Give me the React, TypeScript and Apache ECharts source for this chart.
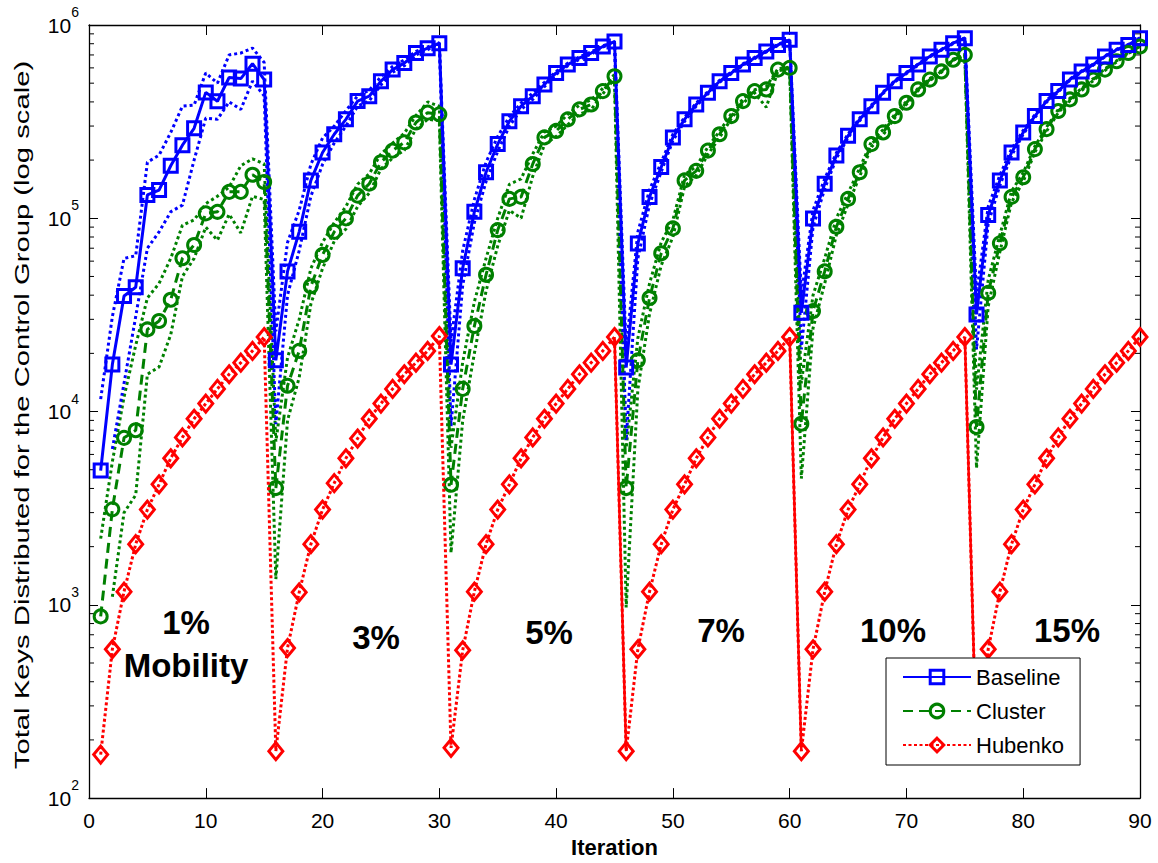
import React, { useEffect, useRef } from 'react';
import * as echarts from 'echarts';

const iterations: number[] = Array.from({ length: 90 }, (_, i) => i + 1);

const baseline = [
  4950, 17500, 39600, 44000, 132000, 140000, 187000, 239000, 292000, 448000, 403000, 535000, 528000, 631000, 522000,
  18400, 53100, 85100, 157000, 219000, 272000, 325000, 404000, 428000, 512000, 588000, 635000, 716000, 759000, 805000,
  17500, 55200, 108000, 173000, 242000, 318000, 380000, 428000, 492000, 565000, 624000, 675000, 716000, 774000, 821000,
  16900, 74000, 129000, 184000, 262000, 325000, 388000, 446000, 512000, 565000, 624000, 675000, 730000, 789000, 838000,
  32400, 99700, 151000, 211000, 267000, 325000, 380000, 446000, 512000, 565000, 624000, 688000, 745000, 805000, 855000,
  31800, 104000, 157000, 219000, 278000, 338000, 404000, 455000, 522000, 575000, 624000, 688000, 745000, 789000, 855000,
];

const baselineUpper = [
  11600, 31000, 62000, 64000, 195000, 212000, 278000, 380000, 385000, 565000, 500000, 700000, 716000, 760000, 640000,
  26000, 75000, 110000, 190000, 260000, 300000, 360000, 430000, 460000, 540000, 610000, 660000, 730000, 770000, 810000,
  23000, 68000, 125000, 195000, 265000, 335000, 395000, 445000, 505000, 575000, 635000, 685000, 725000, 780000, 825000,
  21000, 85000, 140000, 195000, 272000, 333000, 395000, 452000, 518000, 570000, 630000, 680000, 735000, 794000, 842000,
  40000, 110000, 160000, 218000, 273000, 330000, 385000, 450000, 516000, 569000, 628000, 692000, 749000, 809000, 858000,
  40000, 115000, 167000, 228000, 285000, 344000, 409000, 460000, 526000, 579000, 628000, 692000, 749000, 793000, 858000,
];

const baselineLower: (number | string)[] = [
  '-', 6400, 14000, 31000, 70000, 85000, 108000, 117000, 200000, 330000, 325000, 400000, 366000, 512000, 430000,
  8600, 40000, 68000, 130000, 190000, 245000, 300000, 380000, 405000, 490000, 570000, 615000, 700000, 745000, 800000,
  8400, 45000, 95000, 155000, 222000, 300000, 365000, 412000, 480000, 555000, 615000, 665000, 707000, 768000, 817000,
  7100, 62000, 118000, 174000, 252000, 317000, 381000, 440000, 506000, 560000, 618000, 670000, 725000, 784000, 834000,
  21000, 90000, 142000, 204000, 261000, 320000, 375000, 442000, 508000, 561000, 620000, 684000, 741000, 801000, 852000,
  21000, 94000, 148000, 211000, 272000, 332000, 399000, 450000, 518000, 571000, 620000, 684000, 741000, 785000, 852000,
];

const cluster = [
  871, 3120, 7310, 8000, 26600, 29400, 37900, 62100, 72700, 106000, 108000, 137000, 137000, 168000, 154000,
  4020, 13600, 20600, 44500, 64600, 85100, 99800, 131000, 151000, 195000, 224000, 247000, 313000, 352000, 345000,
  4180, 13100, 27700, 51000, 86900, 126000, 129000, 191000, 262000, 283000, 325000, 366000, 388000, 455000, 543000,
  4020, 18400, 38700, 65900, 88600, 157000, 176000, 224000, 272000, 338000, 404000, 455000, 464000, 588000, 600000,
  8650, 33100, 53100, 90400, 126000, 173000, 242000, 278000, 338000, 396000, 464000, 522000, 575000, 661000, 701000,
  8320, 41100, 74200, 129000, 163000, 228000, 289000, 359000, 412000, 464000, 522000, 588000, 649000, 716000, 774000,
];

const clusterUpper = [
  2200, 5500, 11900, 22000, 38700, 46000, 62000, 92000, 98000, 119000, 130000, 145000, 187000, 203000, 191000,
  7000, 19000, 30000, 55000, 75000, 95000, 115000, 150000, 170000, 215000, 245000, 275000, 340000, 400000, 380000,
  6500, 18000, 37000, 62000, 100000, 150000, 160000, 215000, 280000, 300000, 345000, 385000, 410000, 470000, 555000,
  6500, 24000, 46000, 75000, 98000, 168000, 185000, 234000, 282000, 348000, 414000, 462000, 480000, 595000, 605000,
  14000, 40000, 62000, 100000, 135000, 182000, 250000, 287000, 345000, 403000, 470000, 528000, 580000, 665000, 705000,
  13000, 48000, 82000, 138000, 172000, 236000, 296000, 366000, 418000, 470000, 528000, 594000, 654000, 720000, 778000,
];

const clusterLower: (number | string)[] = [
  '-', 1100, 3000, 3700, 15600, 17000, 25000, 50000, 62000, 90000, 77000, 105000, 84000, 130000, 125000,
  1360, 9000, 15000, 36000, 55000, 76000, 88000, 115000, 135000, 180000, 205000, 225000, 290000, 325000, 320000,
  1860, 9000, 20000, 42000, 72000, 110000, 100000, 165000, 240000, 265000, 305000, 345000, 365000, 440000, 530000,
  970, 13000, 32000, 57000, 80000, 146000, 167000, 214000, 262000, 328000, 394000, 445000, 375000, 580000, 595000,
  4500, 27000, 46000, 82000, 118000, 165000, 234000, 270000, 331000, 389000, 458000, 516000, 570000, 657000, 697000,
  5100, 35000, 67000, 121000, 155000, 220000, 282000, 352000, 406000, 458000, 516000, 582000, 644000, 712000, 770000,
];

const hubenkoRun1 = [168, 589, 1170, 2060, 3110, 4200, 5730, 7350, 9180, 11000, 13100, 15600, 17900, 20600, 24300];
const hubenkoRun2 = [175, 598, 1160, 2060, 3110, 4260, 5730, 7250, 9180, 11000, 13100, 15600, 17900, 20600, 24600];
const hubenkoRun3 = [182, 582, 1170, 2060, 3110, 4200, 5730, 7350, 9180, 11000, 13100, 15600, 17900, 20600, 24300];
const hubenkoRun4 = [175, 589, 1170, 2060, 3110, 4200, 5730, 7350, 9180, 11000, 13100, 15600, 17900, 20600, 24300];
const hubenkoRun5 = [175, 589, 1170, 2060, 3110, 4200, 5730, 7350, 9180, 11000, 13100, 15600, 17900, 20600, 24300];
const hubenkoRun6 = [175, 589, 1170, 2060, 3110, 4200, 5730, 7350, 9180, 11000, 13100, 15600, 17900, 20600, 24300];
const hubenko = [...hubenkoRun1, ...hubenkoRun2, ...hubenkoRun3, ...hubenkoRun4, ...hubenkoRun5, ...hubenkoRun6];

// Drops of the Hubenko curve that the reference draws as solid lines
const hubenkoSolidDrops = [45, 60, 75];

const mobilityLabels = ['1%', '3%', '5%', '7%', '10%', '15%'];

const FONT = "'Liberation Sans', Arial, Helvetica, sans-serif";
const BLUE = '#0000ff';
const GREEN = '#008000';
const RED = '#ff0000';

export default function App() {
  const ref = useRef<HTMLDivElement>(null);

  useEffect(() => {
    const chart = echarts.init(ref.current!, null, { renderer: 'svg' });
    const pair = (arr: (number | string)[]) => arr.map((v, i) => [iterations[i], v]);

    const dropData = iterations.map((x, i) => {
      const isDrop = hubenkoSolidDrops.some((d) => x === d || x === d + 1);
      return [x, isDrop ? hubenko[i] : '-'];
    });

    const band = (name: string, arr: (number | string)[], color: string) => ({
      name,
      type: 'line',
      data: pair(arr),
      symbol: 'none',
      silent: true,
      z: 2,
      lineStyle: { color, width: 3, type: [3, 3] },
    });

    const axisLine = { onZero: false, lineStyle: { color: '#000', width: 1.3 } };

    chart.setOption({
      animation: false,
      backgroundColor: '#fff',
      grid: { left: 89, right: 18, top: 25, bottom: 59, containLabel: false },
      xAxis: [
        {
          type: 'value', min: 0, max: 90, interval: 10, position: 'bottom',
          axisLine, axisTick: { inside: true, length: 10, lineStyle: { color: '#000' } },
          axisLabel: { color: '#000', fontSize: 21, margin: 12, fontFamily: FONT },
          splitLine: { show: false },
          name: 'Iteration', nameLocation: 'middle', nameGap: 34,
          nameTextStyle: { color: '#000', fontSize: 22, fontWeight: 'bold', fontFamily: FONT },
        },
        {
          type: 'value', min: 0, max: 90, interval: 10, position: 'top',
          axisLine, axisTick: { inside: true, length: 10, lineStyle: { color: '#000' } },
          axisLabel: { show: false }, splitLine: { show: false },
        },
      ],
      yAxis: [
        {
          type: 'log', logBase: 10, min: 100, max: 1000000, position: 'left',
          axisLine, axisTick: { inside: true, length: 9, lineStyle: { color: '#000' } },
          splitLine: { show: false },
          axisLabel: {
            margin: 10,
            formatter: (v: number) => `{b|10}{s|${Math.round(Math.log10(v))}}`,
            rich: {
              b: { fontSize: 21, color: '#000', fontFamily: FONT, lineHeight: 40, verticalAlign: 'middle' },
              s: { fontSize: 14, color: '#000', fontFamily: FONT, lineHeight: 16, verticalAlign: 'top' },
            },
          },
        },
        {
          type: 'log', logBase: 10, min: 100, max: 1000000, position: 'right',
          axisLine, axisTick: { inside: true, length: 9, lineStyle: { color: '#000' } },
          axisLabel: { show: false }, splitLine: { show: false },
        },
      ],
      legend: {
        data: ['Baseline', 'Cluster', 'Hubenko'],
        orient: 'vertical',
        left: 886,
        top: 658,
        itemWidth: 68,
        itemHeight: 17,
        itemGap: 12,
        padding: [8, 16, 9, 16],
        backgroundColor: '#fff',
        borderColor: '#000',
        borderWidth: 1,
        borderRadius: 0,
        itemStyle: { borderWidth: 3 },
        textStyle: { color: '#000', fontSize: 22, fontFamily: FONT },
        selectedMode: false,
        z: 10,
      },
      series: [
        band('clusterUpper', clusterUpper, GREEN),
        band('clusterLower', clusterLower, GREEN),
        band('baselineUpper', baselineUpper, BLUE),
        band('baselineLower', baselineLower, BLUE),
        {
          name: 'Cluster', type: 'line', data: pair(cluster), z: 3,
          symbol: 'circle', symbolSize: 13, showSymbol: true, showAllSymbol: true,
          itemStyle: { color: 'rgba(0,0,0,0)', borderColor: GREEN, borderWidth: 3 },
          lineStyle: { color: GREEN, width: 3, type: [10, 6] },
        },
        {
          name: 'Baseline', type: 'line', data: pair(baseline), z: 3,
          symbol: 'rect', symbolSize: 13, showSymbol: true, showAllSymbol: true,
          itemStyle: { color: 'rgba(0,0,0,0)', borderColor: BLUE, borderWidth: 3 },
          lineStyle: { color: BLUE, width: 3, type: 'solid' },
        },
        {
          name: 'Hubenko', type: 'line', data: pair(hubenko), z: 4,
          symbol: 'diamond', symbolSize: [14, 17], showSymbol: true, showAllSymbol: true,
          itemStyle: { color: 'rgba(0,0,0,0)', borderColor: RED, borderWidth: 3 },
          lineStyle: { color: RED, width: 3, type: [3, 2.5] },
        },
        {
          name: 'hubenkoDrop', type: 'line', data: dropData, z: 4,
          symbol: 'none', silent: true, connectNulls: false,
          lineStyle: { color: RED, width: 2.5, type: 'solid' },
        },
      ],
    });

    // minor log ticks and annotations
    const xL = chart.convertToPixel({ xAxisIndex: 0 }, 0) as number;
    const xR = chart.convertToPixel({ xAxisIndex: 0 }, 90) as number;
    const graphics: any[] = [];
    for (let e = 2; e < 6; e++) {
      for (let m = 2; m <= 9; m++) {
        const y = chart.convertToPixel({ yAxisIndex: 0 }, m * Math.pow(10, e)) as number;
        graphics.push({ type: 'line', silent: true, shape: { x1: xL, y1: y, x2: xL + 5, y2: y }, style: { stroke: '#000', lineWidth: 1 } });
        graphics.push({ type: 'line', silent: true, shape: { x1: xR - 5, y1: y, x2: xR, y2: y }, style: { stroke: '#000', lineWidth: 1 } });
      }
    }
    const labelPos = [[186, 622], [376, 637], [549, 632], [721, 630], [893, 630], [1067, 630]];
    mobilityLabels.forEach((t, i) => {
      graphics.push({
        type: 'text', silent: true, x: labelPos[i][0], y: labelPos[i][1], z: 20,
        style: { text: t, fontSize: 33, fontWeight: 'bold', fontFamily: FONT, fill: '#000', align: 'center', verticalAlign: 'middle' },
      });
    });
    graphics.push({
      type: 'text', silent: true, x: 186, y: 665, z: 20,
      style: { text: 'Mobility', fontSize: 33, fontWeight: 'bold', fontFamily: FONT, fill: '#000', align: 'center', verticalAlign: 'middle' },
    });
    graphics.push({
      type: 'text', silent: true, x: 22, y: 415, rotation: Math.PI / 2, scaleX: 1.5, z: 20,
      style: {
        text: 'Total Keys Distributed for the Control Group (log scale)',
        fontSize: 19.5, fontFamily: FONT, fill: '#000', align: 'center', verticalAlign: 'middle',
      },
    });
    chart.setOption({ graphic: graphics });

    return () => chart.dispose();
  }, []);

  return (
    <div
      ref={ref}
      style={{ position: 'fixed', left: 0, top: 0, width: 1158, height: 863, background: '#fff' }}
    />
  );
}
